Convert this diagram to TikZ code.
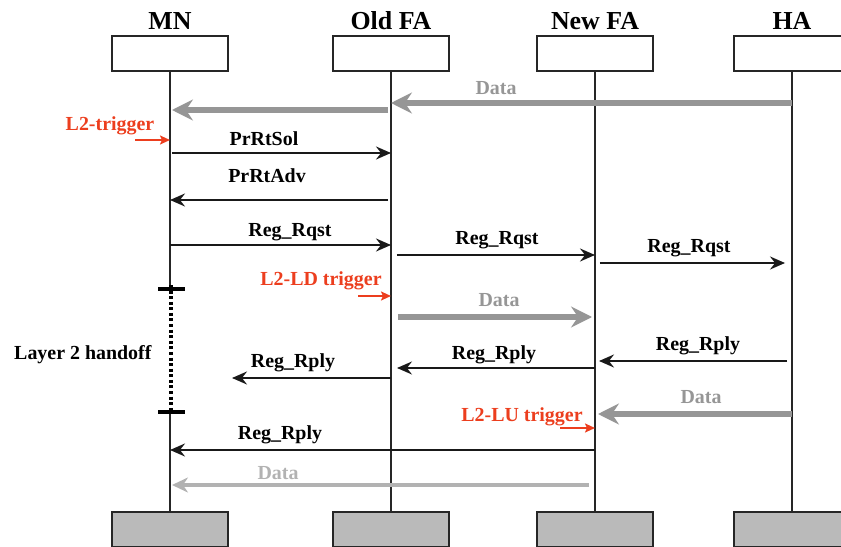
\documentclass[tikz,border=0pt]{standalone}
\usepackage{fontspec}
\setmainfont{Liberation Serif}
\usetikzlibrary{arrows.meta}
\definecolor{datagray}{RGB}{150,150,150}
\definecolor{datalight}{RGB}{178,178,178}
\definecolor{trigred}{RGB}{236,62,30}

\begin{document}
\begin{tikzpicture}[
  x=1bp,y=-1bp,
  headbox/.style={draw=black!85,line width=2pt,minimum width=116bp,minimum height=35bp,inner sep=0pt},
  footbox/.style={headbox,fill=black!27},
  life/.style={draw=black!85,line width=2pt},
  msg/.style={draw=black!90,line width=2.2pt,-{Stealth[length=15pt,width=13pt,inset=5pt]}},
  datamsg/.style={draw=datagray,line width=6pt,-{Stealth[length=21pt,width=21pt,inset=7pt]}},
  trig/.style={draw=trigred,line width=2.8pt,-{Stealth[length=10pt,width=9pt,inset=2pt]}},
  title/.style={font=\fontsize{26}{28}\selectfont\bfseries,anchor=base},
  msglabel/.style={font=\fontsize{20}{22}\selectfont\bfseries,anchor=base},
  datalabel/.style={msglabel,text=datagray},
  triglabel/.style={msglabel,text=trigred}
]
  \useasboundingbox (0,0) rectangle (841,547);
  \clip (0,0) rectangle (841,547);

  \foreach \id/\x/\name in {mn/170/MN,ofa/391/Old FA,nfa/595/New FA,ha/792/HA}
  {
    \node[headbox] (\id-top) at (\x,53.5) {};
    \node[footbox] (\id-foot) at (\x,529.5) {};
    \node[title] (\id-title) at (\x,30) {\name};
  }
  \foreach \id in {ofa,nfa,ha}
    \draw[life] (\id-top) -- (\id-foot);

  \coordinate (hand-start) at (171,289);
  \coordinate (hand-end) at (171,412);
  \draw[life] (mn-top) -- (mn-top |- hand-start);
  \draw[life] (mn-foot) -- (mn-foot |- hand-end);
  \draw[line width=3.6pt,dash pattern=on 3pt off 2.6pt]
    ([yshift=4]hand-start) -- (hand-end);
  \draw[line width=4pt] ([xshift=-13]hand-start) -- ([xshift=14]hand-start);
  \draw[line width=4pt] ([xshift=-13]hand-end) -- ([xshift=14]hand-end);
  \node[msglabel,anchor=base east] (hand-text) at (155,359) {Layer 2 handoff};

  \draw[datamsg] (ha-top |- 0,103) -- (ofa-top |- 0,103);
  \draw[datamsg,shorten <=3,shorten >=2] (ofa-top |- 0,110) -- (mn-top |- 0,110);
  \node[datalabel] (data-one) at (496,95) {Data};

  \coordinate (l2-start) at (135,140);
  \draw[trig] (l2-start) -- (mn-top |- l2-start);
  \node[triglabel] (l2-text) at (110,131) {L2-trigger};

  \draw[msg,shorten <=2] (mn-top |- 0,153) -- (ofa-top |- 0,153);
  \node[msglabel] (sol-text) at (264,146) {PrRtSol};
  \draw[msg,shorten <=3] (ofa-top |- 0,200) -- (mn-top |- 0,200);
  \node[msglabel] (adv-text) at (267,183) {PrRtAdv};

  \draw[msg] (mn-top |- 0,245) -- (ofa-top |- 0,245);
  \node[msglabel] (rqst-one) at (290,237) {Reg\_Rqst};
  \draw[msg,shorten <=6] (ofa-top |- 0,255) -- (nfa-top |- 0,255);
  \node[msglabel] (rqst-two) at (497,245) {Reg\_Rqst};
  \draw[msg,shorten <=5,shorten >=7] (nfa-top |- 0,263) -- (ha-top |- 0,263);
  \node[msglabel] (rqst-three) at (689,253) {Reg\_Rqst};

  \coordinate (ld-start) at (358,296);
  \draw[trig] (ld-start) -- (ofa-top |- ld-start);
  \node[triglabel] (ld-text) at (321,286) {L2-LD trigger};

  \draw[datamsg,shorten <=7,shorten >=3] (ofa-top |- 0,317) -- (nfa-top |- 0,317);
  \node[datalabel] (data-two) at (499,307) {Data};

  \draw[msg,shorten <=5,shorten >=4] (ha-top |- 0,361) -- (nfa-top |- 0,361);
  \node[msglabel] (rply-one) at (698,350) {Reg\_Rply};
  \draw[msg,shorten >=6] (nfa-top |- 0,368) -- (ofa-top |- 0,368);
  \node[msglabel] (rply-two) at (494,359) {Reg\_Rply};
  \coordinate (rply-stop) at (232,378);
  \draw[msg] (ofa-top |- rply-stop) -- (rply-stop);
  \node[msglabel] (rply-three) at (293,367) {Reg\_Rply};

  \draw[datamsg,shorten >=3] (ha-top |- 0,414) -- (nfa-top |- 0,414);
  \node[datalabel] (data-three) at (701,403) {Data};

  \coordinate (lu-start) at (560,428);
  \draw[trig] (lu-start) -- (nfa-top |- lu-start);
  \node[triglabel] (lu-text) at (522,421) {L2-LU trigger};

  \draw[msg] (nfa-top |- 0,450) -- (mn-top |- 0,450);
  \node[msglabel] (rply-four) at (280,439) {Reg\_Rply};

  \draw[datamsg,draw=datalight,line width=3.6pt,shorten <=6,shorten >=2,
    -{Stealth[length=16pt,width=15pt,inset=5pt]}]
    (nfa-top |- 0,485) -- (mn-top |- 0,485);
  \node[datalabel,text=datalight] (data-four) at (278,479) {Data};
\end{tikzpicture}
\end{document}
